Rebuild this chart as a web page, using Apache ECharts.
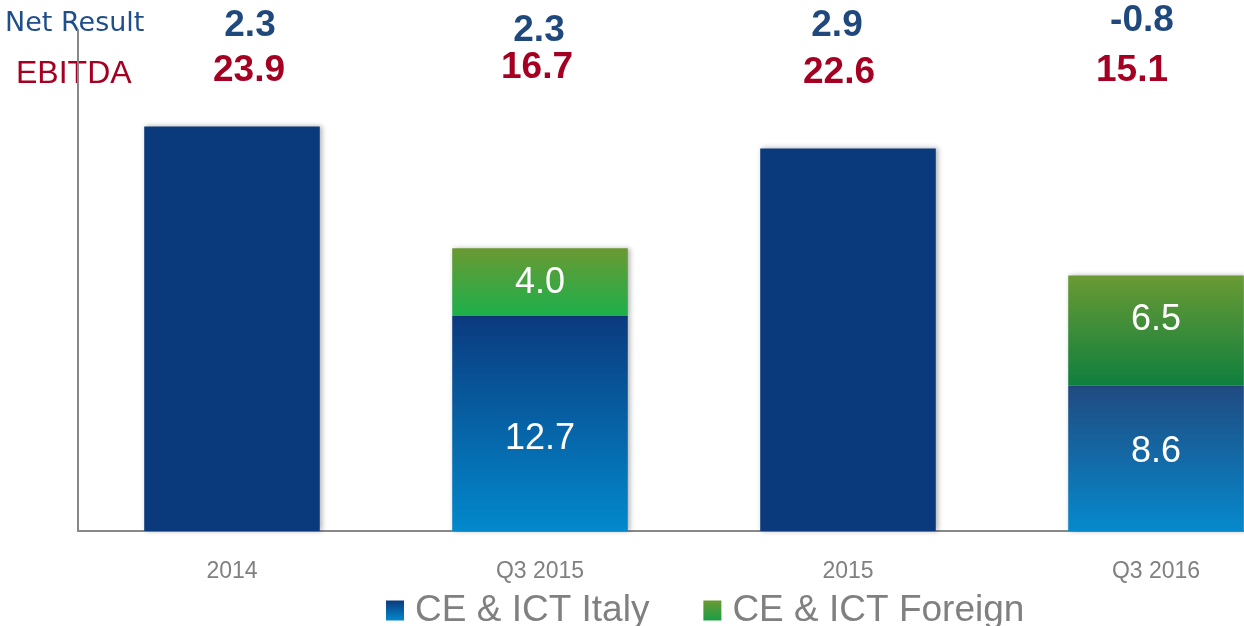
<!DOCTYPE html>
<html>
<head>
<meta charset="utf-8">
<script src="https://cdn.jsdelivr.net/npm/echarts@6/dist/echarts.min.js"></script>
<style>
  html, body { margin: 0; padding: 0; background: #fff; overflow: hidden; }
  /* 画布比窗口宽，最后一根柱子在右边缘被裁掉 */
  #chart { width: 1310px; height: 626px; }
</style>
</head>
<body>
<div id="chart"></div>
<script>
// 数据
const categories = ['2014', 'Q3 2015', '2015', 'Q3 2016']
const italy = [23.9, 12.7, 22.6, 8.6]
const foreign = [null, 4.0, null, 6.5]
const netResult = ['2.3', '2.3', '2.9', '-0.8']
const ebitda = ['23.9', '16.7', '22.6', '15.1']

// 版式：顶部文字相对柱子中心的偏移，柱内标签的竖直偏移
const netPos = [[18, 26], [-1, 31], [-11, 26], [-14, 21]]
const ebitdaPos = [[17, 71], [-3, 68], [-9, 73], [-24, 71]]
const italyLabelDy = [0, 16, 0, -6]
const foreignLabelDy = [0, 1, 0, -10]

const FONT = '"Liberation Sans", Arial, sans-serif'
const BLUE = '#1f497d'
const RED = '#a50021'

const grad = (top, bottom) =>
  new echarts.graphic.LinearGradient(0, 0, 0, 1, [
    { offset: 0, color: top },
    { offset: 1, color: bottom },
  ])

const italyGrads = [null, grad('#0b3a7e', '#0289cc'), null, grad('#204a80', '#0689cc')]
const foreignGrads = [null, grad('#6a9933', '#1cb04b'), null, grad('#6a9a34', '#0f7f3e')]

const shadow = {
  shadowBlur: 5,
  shadowOffsetX: 2,
  shadowOffsetY: 0,
  shadowColor: 'rgba(0,0,0,0.3)',
}

const insideLabel = {
  show: true,
  position: 'inside',
  color: '#fff',
  fontSize: 36,
  fontFamily: FONT,
  formatter: (p) => p.value.toFixed(1),
}

const italyData = italy.map((v, i) => {
  if (foreign[i] == null) {
    return { value: v, itemStyle: { color: '#0a3a7c' }, label: { show: false } }
  }
  return { value: v, itemStyle: { color: italyGrads[i] }, label: { offset: [0, italyLabelDy[i]] } }
})

const foreignData = foreign.map((v, i) => {
  if (v == null) return '-'
  return { value: v, itemStyle: { color: foreignGrads[i] }, label: { offset: [0, foreignLabelDy[i]] } }
})

const chart = echarts.init(document.getElementById('chart'), null, { renderer: 'canvas' })

const option = {
  animation: false,
  grid: { left: 78, right: 0, top: 30, bottom: 95, containLabel: false },
  legend: {
    bottom: -3,
    left: 386,
    padding: 0,
    itemWidth: 18,
    itemHeight: 20,
    itemGap: 54,
    icon: 'rect',
    textStyle: { color: '#808080', fontSize: 37, lineHeight: 37, fontFamily: FONT, padding: [0, 0, 0, 6] },
    data: ['CE & ICT Italy', 'CE & ICT Foreign'],
  },
  xAxis: {
    type: 'category',
    data: categories,
    axisLine: { show: true, lineStyle: { color: '#888', width: 2 } },
    axisTick: { show: false },
    axisLabel: { color: '#808080', fontSize: 23, fontFamily: FONT, margin: 29 },
  },
  yAxis: {
    type: 'value',
    min: 0,
    max: 29.6,
    axisLine: { show: true, lineStyle: { color: '#888', width: 2 } },
    axisTick: { show: false },
    axisLabel: { show: false },
    splitLine: { show: false },
  },
  series: [
    {
      name: 'CE & ICT Italy',
      type: 'bar',
      stack: 'total',
      barWidth: '57%',
      itemStyle: Object.assign({ color: grad('#0b3a7e', '#0289cc') }, shadow),
      label: insideLabel,
      data: italyData,
    },
    {
      name: 'CE & ICT Foreign',
      type: 'bar',
      stack: 'total',
      barWidth: '57%',
      itemStyle: Object.assign({ color: grad('#6a9933', '#1a9e47') }, shadow),
      label: insideLabel,
      data: foreignData,
    },
  ],
}

chart.setOption(option)

// 顶部 Net Result / EBITDA 文字
const topText = []
topText.push({
  type: 'text', left: 5, top: 10, silent: true,
  style: { text: 'Net Result', fill: '#1f4e8c', font: '27px "DejaVu Sans", Verdana, sans-serif' },
})
topText.push({
  type: 'text', left: 16, top: 58, silent: true,
  style: { text: 'EBITDA', fill: RED, font: '32px ' + FONT },
})
categories.forEach((c, i) => {
  const cx = chart.convertToPixel({ xAxisIndex: 0 }, c)
  topText.push({
    type: 'text', x: cx + netPos[i][0], y: netPos[i][1], silent: true,
    style: { text: netResult[i], fill: BLUE, font: 'bold 37px ' + FONT, align: 'center', verticalAlign: 'middle' },
  })
  topText.push({
    type: 'text', x: cx + ebitdaPos[i][0], y: ebitdaPos[i][1], silent: true,
    style: { text: ebitda[i], fill: RED, font: 'bold 37px ' + FONT, align: 'center', verticalAlign: 'middle' },
  })
})
chart.setOption({ graphic: topText })
</script>
</body>
</html>
